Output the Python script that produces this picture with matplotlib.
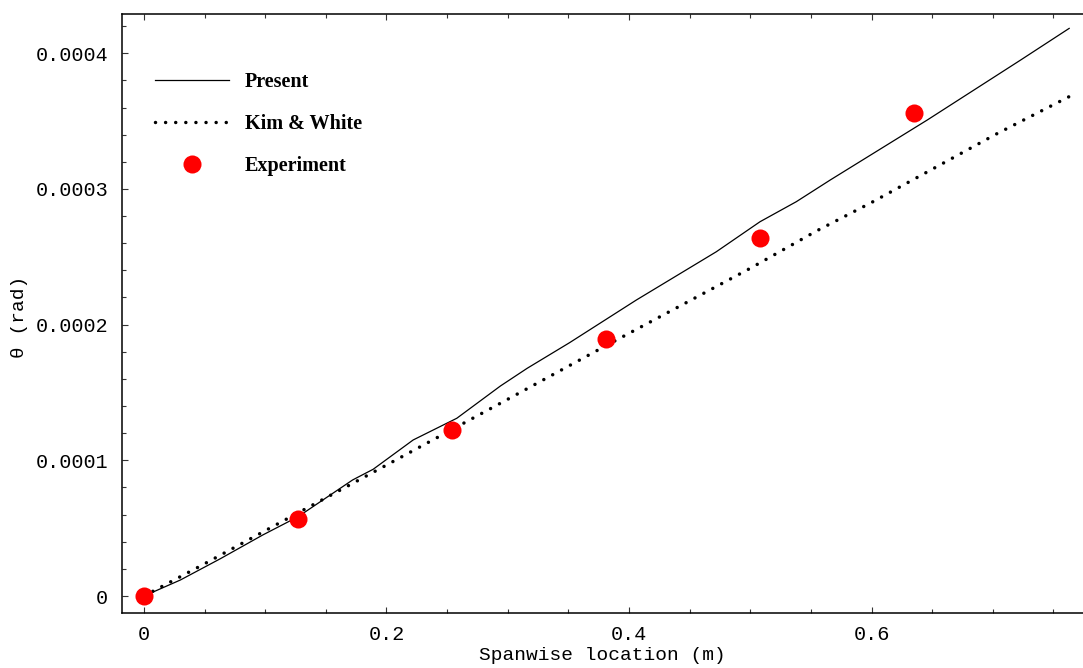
import matplotlib
matplotlib.use("Agg")
import matplotlib.pyplot as plt
from matplotlib.ticker import MultipleLocator
from matplotlib.lines import Line2D
import numpy as np

# spanwise location (m) and twist angle (units of 1e-4 rad)
x_present = [0, 0.030, 0.063, 0.098, 0.127, 0.172, 0.189, 0.222, 0.258, 0.294,
             0.316, 0.351, 0.406, 0.472, 0.508, 0.538, 0.566, 0.646, 0.723, 0.763]
theta_present = [0, 0.118, 0.275, 0.450, 0.584, 0.855, 0.934, 1.150, 1.310, 1.548,
                 1.678, 1.867, 2.181, 2.537, 2.758, 2.906, 3.066, 3.508, 3.950, 4.183]

x_kim = [0, 0.049, 0.112, 0.2, 0.3, 0.38, 0.5, 0.555, 0.6, 0.703, 0.763]
theta_kim = [0, 0.233, 0.540, 0.965, 1.45, 1.84, 2.415, 2.692, 2.90, 3.405, 3.68]

x_exp = [0, 0.127, 0.254, 0.381, 0.508, 0.635]
theta_exp = [0, 0.565, 1.223, 1.894, 2.64, 3.56]

xtick_vals = [0, 0.2, 0.4, 0.6]
xtick_labels = ["0", "0.2", "0.4", "0.6"]
ytick_vals = [0, 1e-4, 2e-4, 3e-4, 4e-4]
ytick_labels = ["0", "0.0001", "0.0002", "0.0003", "0.0004"]

mono = "Liberation Mono"
serif = "Liberation Serif"

fig = plt.figure(figsize=(10.83, 6.68), dpi=100)
ax = fig.add_axes([122/1083, 1 - 613/668, 961/1083, 599/668])

scale = 1e-4
dots = (0, (0.01, 2.9))
ax.plot(x_present, np.array(theta_present) * scale, color="black", lw=0.9,
        zorder=2)
ax.plot(x_kim, np.array(theta_kim) * scale, color="black", lw=2.5,
        linestyle=dots, dash_capstyle="round", zorder=2)
ax.plot(x_exp, np.array(theta_exp) * scale, "o", color="red", ms=13,
        markeredgewidth=0, zorder=3)

ax.set_xlim(-0.0181, 0.7744)
ax.set_ylim(-0.125e-4, 4.289e-4)

ax.set_xticks(xtick_vals)
ax.set_xticklabels(xtick_labels, fontfamily=mono, fontsize=14.5)
ax.set_yticks(ytick_vals)
ax.set_yticklabels(ytick_labels, fontfamily=mono, fontsize=14.5)
ax.xaxis.set_minor_locator(MultipleLocator(0.05))
ax.yaxis.set_minor_locator(MultipleLocator(2e-5))

ax.tick_params(which="both", direction="in", top=True, right=False, width=0.8,
               color="#333333")
ax.tick_params(which="major", length=4.5)
ax.tick_params(which="minor", length=2.6)
ax.tick_params(axis="x", which="major", pad=9)
ax.tick_params(axis="y", which="major", pad=10)

for side in ["left", "bottom", "top"]:
    ax.spines[side].set_linewidth(1.1)
ax.spines["right"].set_visible(False)

ax.set_xlabel("Spanwise location (m)", fontfamily=mono, fontsize=14)
ax.xaxis.set_label_coords(0.5, -0.057)
fig.text(20/1083, 1 - 317/668, "θ (rad)", fontfamily=mono, fontsize=14,
         rotation=90, ha="center", va="center")

handles = [
    Line2D([], [], color="black", lw=0.9),
    Line2D([], [], color="black", lw=2.5, linestyle=dots, dash_capstyle="round"),
    Line2D([], [], marker="o", color="red", ms=13, markeredgewidth=0, lw=0),
]
ax.legend(handles, ["Present", "Kim & White", "Experiment"],
          loc="upper left", bbox_to_anchor=(0.0343, 0.903), frameon=False,
          borderpad=0, borderaxespad=0, handlelength=3.7,
          handletextpad=0.75, labelspacing=1.1,
          prop={"family": serif, "weight": "bold", "size": 14.5})

fig.savefig("out.png", dpi=100)
